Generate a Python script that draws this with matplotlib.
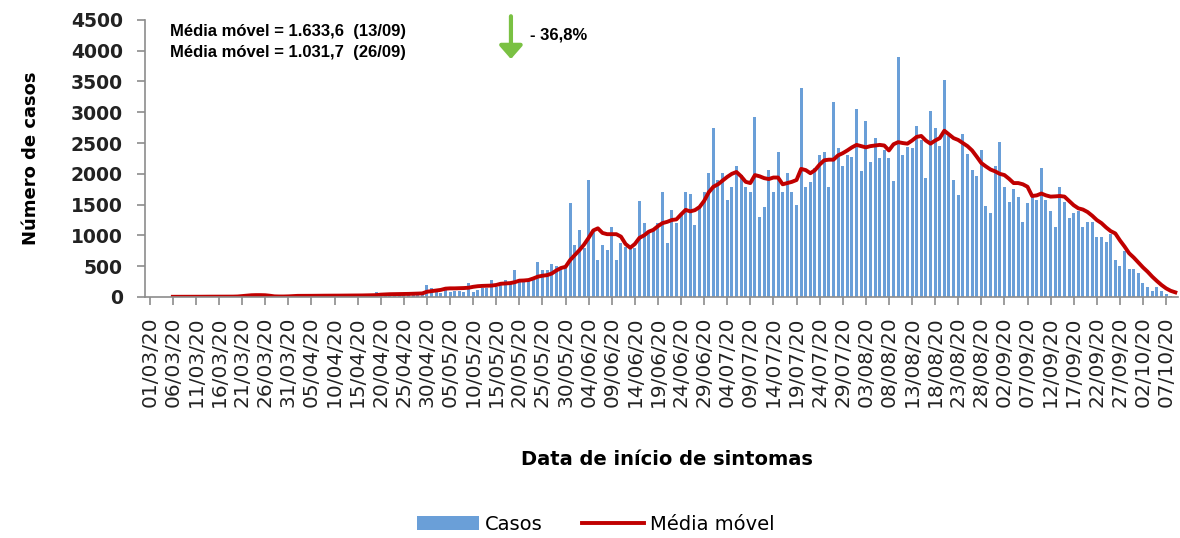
import datetime as dt

import matplotlib.pyplot as plt
import numpy as np

# daily cases by symptom onset, starting 01/03/2020 (one value per day)
cases = [
    0, 0, 0, 0, 0, 2, 1, 3, 2, 4, 3, 5, 4, 6, 3, 5, 7, 6, 8, 10,
    25, 40, 35, 30, 20, 15, 10, 8, 10, 12, 15, 18, 15, 20, 18, 22, 25, 18, 20, 24,
    22, 26, 20, 28, 25, 22, 30, 28, 35, 80, 40, 45, 35, 50, 55, 45, 60, 50, 70, 60,
    195, 150, 85, 70, 140, 85, 95, 95, 85, 220, 85, 110, 140, 140, 280, 165, 195, 275, 220, 440,
    275, 250, 275, 280, 570, 440, 440, 535, 500, 465, 490, 1520, 844, 1085, 800, 1900, 1050, 600, 844, 770,
    1140, 600, 880, 815, 790, 800, 1560, 1200, 1060, 1090, 1195, 1710, 880, 1420, 1195, 1330, 1710, 1680, 1170,
    1466, 1710, 2010, 2740, 1900, 2010, 1580, 1790, 2130, 1980, 1790, 1710, 2930, 1300, 1466, 2070, 1710, 2360,
    1710, 2010, 1710, 1490, 3400, 1790, 1860, 2090, 2310, 2360, 1790, 3160, 2420, 2130, 2310, 2280, 3060, 2040,
    2860, 2200, 2580, 2250, 2390, 2250, 1880, 3890, 2310, 2440, 2420, 2770, 2550, 1940, 3020, 2740, 2450, 3530,
    2610, 1900, 1660, 2640, 2330, 2060, 1960, 2390, 1470, 1360, 2130, 2520, 1790, 1550, 1760, 1630, 1210, 1520,
    1630, 1570, 2100, 1570, 1400, 1140, 1790, 1550, 1280, 1370, 1390, 1140, 1220, 1210, 980, 980, 900, 1030,
    600, 500, 740, 450, 450, 390, 220, 160, 90, 160, 90, 50, 20,
]

# 7-day moving average as drawn (starts 06/03/2020)
media_movel = [
    3, 3, 3, 4, 4, 4, 4, 5, 5, 5, 5, 6, 6, 6, 8,
    15, 22, 28, 30, 30, 28, 20, 10, 8, 8, 10, 14,
    18, 18, 19, 19, 20, 20, 21, 21, 22, 22, 23, 23, 24, 24, 25, 26, 28, 30,
    38, 42, 45, 46, 47, 48, 50, 52, 55, 58,
    85, 95, 105, 115, 135, 140, 140, 142, 145, 150, 165, 175, 180, 182, 185, 195, 215, 220, 225, 240,
    265, 268, 275, 300, 330, 345, 355, 380, 430, 470, 490, 600, 680, 760, 850, 960, 1080, 1115, 1040, 1020,
    1020, 1020, 980, 860, 800, 860, 960, 1000, 1060, 1090, 1150, 1200, 1220, 1250, 1260, 1340, 1415, 1390, 1410,
    1460, 1560, 1700, 1790, 1830, 1890, 1950, 2000, 2030, 1960, 1870, 1850, 1980, 1960, 1930, 1915, 1940, 1940,
    1830, 1850, 1870, 1900, 2080, 2060, 2010, 2060, 2150, 2220, 2230, 2230, 2300, 2335, 2380, 2430, 2470, 2450,
    2430, 2450, 2460, 2470, 2460, 2380, 2480, 2515, 2500, 2490, 2540, 2600, 2615, 2540, 2490, 2540, 2580, 2700,
    2640, 2580, 2550, 2500, 2450, 2380, 2280, 2175, 2120, 2070, 2040, 2000, 1980, 1920, 1850, 1850, 1830, 1790,
    1640, 1650, 1680, 1650, 1630, 1634, 1640, 1630, 1560, 1490, 1440, 1420, 1380, 1320, 1250, 1200, 1130, 1070,
    1032, 920, 820, 710, 640, 560, 480, 410, 330, 260, 195, 140, 100, 75,
]
mm_start = 5

start = dt.date(2020, 3, 1)
tick_days = list(range(0, 221, 5))
tick_labels = [(start + dt.timedelta(days=d)).strftime("%d/%m/%y") for d in tick_days]

bar_color = "#6a9fd8"
line_color = "#c00000"

fig = plt.figure(figsize=(11.8, 5.38), dpi=100)
ax = fig.add_axes([0.123, 0.448, 0.875, 0.515])

x_cases = np.arange(len(cases))
x_mm = np.arange(mm_start, mm_start + len(media_movel))
bars = ax.bar(x_cases, cases, width=0.65, color=bar_color, label="Casos")
line, = ax.plot(x_mm, media_movel, color=line_color, linewidth=2.8, label="Média móvel")

ax.set_xlim(-1, 222.5)
ax.set_ylim(0, 4500)
ax.set_yticks(np.arange(0, 4501, 500))
ax.set_xticks(tick_days)
ax.set_xticklabels(tick_labels, rotation=90, fontsize=14.5, color="#222222")
for lab in ax.get_yticklabels():
    lab.set_fontsize(13.5)
    lab.set_fontweight("bold")
    lab.set_color("#222222")

for side in ["top", "right"]:
    ax.spines[side].set_visible(False)
for side in ["left", "bottom"]:
    ax.spines[side].set_color("#8c8c8c")
    ax.spines[side].set_linewidth(1.2)
ax.tick_params(axis="both", colors="#8c8c8c", length=6, width=1.2)
ax.tick_params(axis="x", labelcolor="#222222", pad=8)
ax.tick_params(axis="y", labelcolor="#222222", pad=10)

ax.set_ylabel("Número de casos", fontsize=13, fontweight="bold", labelpad=22)
fig.text(0.565, 0.145, "Data de início de sintomas", fontsize=14, fontweight="bold",
         ha="center", va="center")

# annotation block
fig.text(0.144, 0.942, "Média móvel = 1.633,6  (13/09)", fontsize=12, fontweight="bold",
         family="Liberation Sans", va="center")
fig.text(0.144, 0.902, "Média móvel = 1.031,7  (26/09)", fontsize=12, fontweight="bold",
         family="Liberation Sans", va="center")
ax.annotate("", xy=(0.433, 0.885), xytext=(0.433, 0.975), xycoords="figure fraction",
            arrowprops=dict(arrowstyle="-|>,head_width=0.7,head_length=0.8",
                            color="#7ac143", linewidth=3))
fig.text(0.449, 0.935, "- 36,8%", fontsize=12, fontweight="bold",
         family="Liberation Sans", va="center")

fig.legend([bars, line], ["Casos", "Média móvel"], loc="center",
           bbox_to_anchor=(0.505, 0.025), ncol=2, frameon=False,
           fontsize=14, handlelength=3.2, columnspacing=2.0, handletextpad=0.3)

fig.savefig("out.png", dpi=100)
